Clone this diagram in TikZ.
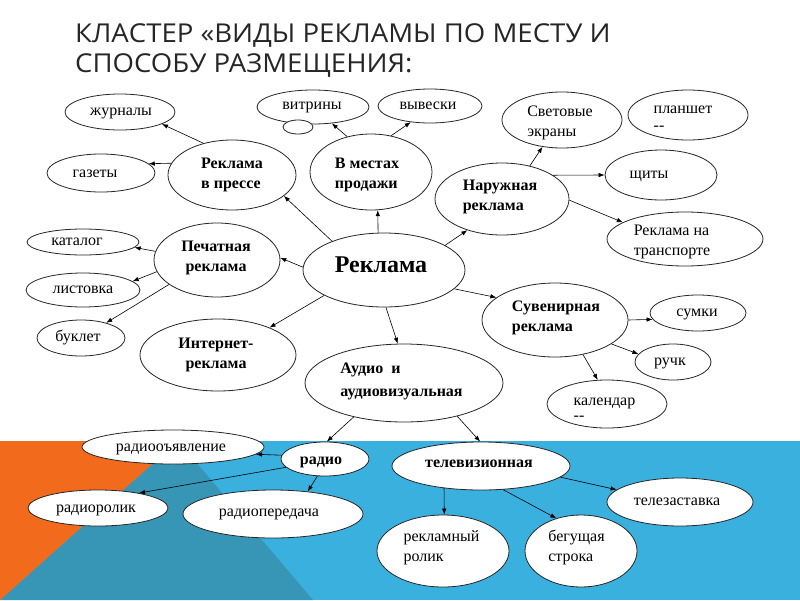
\documentclass[tikz,border=0pt]{standalone}
\usepackage{graphicx}
\usepackage{fontspec}
\setmainfont{Liberation Serif}
\newfontfamily\titlefont{Open Sans}
\usetikzlibrary{shapes.geometric,arrows.meta}
\definecolor{bandblue}{HTML}{3AB0DF}
\definecolor{bandteal}{HTML}{3796B6}
\definecolor{bandorange}{HTML}{F26B1D}
\definecolor{titlegray}{HTML}{262626}
% text placed inside an ellipse: #1 = horizontal offset (pt), #2 = raise (pt), #3 = lines
\newcommand\txl[3]{\raisebox{#2pt}[0pt][0pt]{\makebox[0pt]{\hspace*{#1pt}\hspace*{#1pt}\begin{tabular}{@{}l@{}}#3\end{tabular}}}}
\newcommand\txc[3]{\raisebox{#2pt}[0pt][0pt]{\makebox[0pt]{\hspace*{#1pt}\hspace*{#1pt}\begin{tabular}{@{}c@{}}#3\end{tabular}}}}
\tikzset{
  ell/.style={ellipse, draw=black!85, line width=0.8pt, fill=white, inner sep=0pt,
    font=\rmfamily\fontsize{16}{20}\selectfont},
  bld/.style={ell, font=\rmfamily\bfseries\fontsize{16}{20}\selectfont},
  arr/.style={-{Latex[length=6pt,width=4.5pt]}, line width=0.6pt, black},
  ttl/.style={anchor=base west, inner sep=0pt, text=titlegray, font=\titlefont\fontsize{26}{30}\selectfont}
}
\begin{document}
\begin{tikzpicture}[x=1pt,y=-1pt]
\useasboundingbox (0,0) rectangle (800,600);
\fill[white] (0,0) rectangle (800,600);
% bottom band
\fill[bandblue] (0,441) rectangle (800,600);
\fill[bandteal] (178,441) -- (0,600) -- (313,600) -- cycle;
\fill[bandorange] (0,441) -- (178,441) -- (0,600) -- cycle;
% title
\node[ttl] (t1) at (75,42) {\scalebox{1.06}[1]{КЛАСТЕР «ВИДЫ РЕКЛАМЫ ПО МЕСТУ И}};
\node[ttl] (t2) at (75,72) {\scalebox{1.06}[1]{СПОСОБУ РАЗМЕЩЕНИЯ:}};
% nodes
\node[bld, minimum width=128, minimum height=70] (pressa) at (232,175) {\txl{0}{-3.7}{Реклама\\в прессе}};
\node[ell, minimum width=110, minimum height=36] (zhurn) at (120,112) {\txl{1}{-3.7}{журналы}};
\node[ell, minimum width=108, minimum height=38] (gazety) at (101,173) {\txl{-6}{-4.7}{газеты}};
\node[ell, minimum width=112, minimum height=34] (vitr) at (313,107) {\txl{-1}{-2.7}{витрины}};
\node[ell, minimum width=30, minimum height=14] (small) at (298,127) {};
\node[ell, minimum width=104, minimum height=34] (vyv) at (430,106) {\txl{-2}{-3.7}{вывески}};
\node[bld, minimum width=122, minimum height=76] (mesta) at (371,172) {\txl{-4}{-6.7}{В местах\\продажи}};
\node[ell, minimum width=120, minimum height=56] (svet) at (562,120) {\txl{-2}{-6.7}{Световые\\экраны}};
\node[ell, minimum width=120, minimum height=50] (plansh) at (688,115) {\txl{-5}{-7.2}{планшет\\[-3pt]-{}-}};
\node[ell, minimum width=112, minimum height=50] (shch) at (661,175) {\txl{-12}{-3.7}{щиты}};
\node[bld, minimum width=134, minimum height=72] (nar) at (502,199) {\txl{-2}{-1.7}{Наружная\\реклама}};
\node[ell, minimum width=156, minimum height=54] (transp) at (685,239) {\txl{-13}{-6.7}{Реклама на\\транспорте}};
\node[bld, font=\rmfamily\bfseries\fontsize{24}{28}\selectfont, minimum width=162, minimum height=74] (rekl) at (384,270) {\txl{-3}{-3}{Реклама}};
\node[ell, minimum width=112, minimum height=26] (katalog) at (83,242) {\txl{-6}{-3.7}{каталог}};
\node[ell, minimum width=114, minimum height=34] (listov) at (83,290) {\txl{0}{-3.7}{листовка}};
\node[ell, minimum width=88, minimum height=36] (buklet) at (81,338) {\txl{-3}{-3.7}{буклет}};
\node[bld, minimum width=126, minimum height=74] (pech) at (217,260) {\txc{-1}{-1.7}{Печатная\\реклама}};
\node[bld, minimum width=156, minimum height=72] (inet) at (218,355) {\txc{-2}{-3.7}{Интернет-\\реклама}};
\node[bld, minimum width=146, minimum height=74] (suv) at (555,320) {\txl{1}{-1.7}{Сувенирная\\реклама}};
\node[ell, minimum width=96, minimum height=36] (sumki) at (698,313) {\txl{-1}{-3.7}{сумки}};
\node[ell, minimum width=76, minimum height=36] (ruchk) at (673,362) {\txl{-3}{-3.7}{ручк}};
\node[ell, minimum width=120, minimum height=48] (kal) at (607,404) {\txl{-2.5}{-9.2}{календар\\[-5pt]-{}-}};
\node[bld, minimum width=198, minimum height=78] (audio) at (404,383) {\txl{-2.5}{-2.2}{Аудио\ \ и\\[3pt]аудиовизуальная}};
\node[ell, minimum width=182, minimum height=34] (radob) at (173,447) {\txl{-2}{-4.7}{радиооъявление}};
\node[bld, minimum width=88, minimum height=34] (radio) at (325,459) {\txl{-4}{-5.7}{радио}};
\node[ell, minimum width=140, minimum height=36] (radrol) at (98,508) {\txl{-2}{-4.7}{радиоролик}};
\node[ell, minimum width=180, minimum height=48] (radper) at (273,514) {\txl{-4}{-2.7}{радиопередача}};
\node[bld, minimum width=178, minimum height=48] (tv) at (481,466) {\txl{-2}{-1.7}{телевизионная}};
\node[ell, minimum width=146, minimum height=48] (telez) at (680,502) {\txl{-3}{-3.7}{телезаставка}};
\node[ell, minimum width=132, minimum height=72] (rrol) at (443,551) {\txl{-1.5}{-0.7}{рекламный\\ролик}};
\node[ell, minimum width=112, minimum height=72] (beg) at (581,551) {\txl{-4.5}{-0.7}{бегущая\\строка}};
% connectors
\draw[arr] (rekl.151) -- (pressa.-22);
\draw[arr] (rekl.99) -- (mesta.-80);
\draw[arr] (rekl.22) -- (nar.-138);
\draw[arr] (rekl.178) -- (pech.2);
\draw[arr] (rekl.203) -- (inet.28);
\draw[arr] (rekl.-87) -- (audio.99);
\draw[arr] (rekl.-15) -- (suv.159);
\draw[arr] (pressa.132) -- (zhurn.-16);
\draw[arr] (pressa.169) -- (gazety.11);
\draw[arr] (mesta.124) -- (vitr.-41);
\draw[arr] (mesta.61) -- (vyv.-140);
\draw[arr] (nar.50) -- (svet.-126);
\draw[arr] (nar.25) -- (shch.180);
\draw[arr] (nar.-1) -- (transp.165);
\draw[arr] (pech.172) -- (katalog.-6);
\draw[arr] (pech.191) -- (listov.10);
\draw[arr] (pech.207) -- (buklet.31);
\draw[arr] (suv.0) -- (sumki.188);
\draw[arr] (suv.-23) -- (ruchk.167);
\draw[arr] (suv.-51) -- (kal.111);
\draw[arr] (audio.214) -- (radio.84);
\draw[arr] (audio.-32) -- (tv.92);
\draw[arr] (radio.175) -- (radob.-5);
\draw[arr] (radio.192) -- (radrol.20);
\draw[arr] (radio.246) -- (radper.33);
\draw[arr] (tv.-8) -- (telez.169);
\draw[arr] (tv.211) -- (rrol.88);
\draw[arr] (tv.-47) -- (beg.127);
\end{tikzpicture}
\end{document}
